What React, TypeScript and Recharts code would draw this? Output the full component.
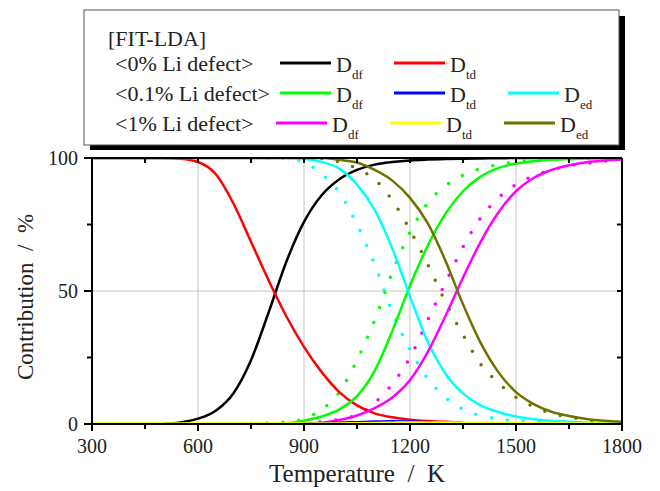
import React from 'react';
import { LineChart, Line, XAxis, YAxis, ReferenceLine } from 'recharts';

// temperature grid (K)
const TEMPS = [300, 350, 400, 450, 500, 550, 600, 650, 700, 750, 800, 850, 900, 950, 1000, 1050,
  1100, 1150, 1200, 1250, 1300, 1350, 1400, 1450, 1500, 1550, 1600, 1650, 1700, 1750, 1800];

// <0% Li defect>
const DF_0 = [null, null, null, null, 0.1, 0.6, 2, 5, 11.5, 24, 42, 61, 76, 86, 92, 95.5,
  97.5, 98.5, 99.1, 99.4, 99.6, 99.75, 99.85, 99.9, 100, 100, 100, 100, 100, 100, 100];
const TD_0 = [100, 100, 100, 100, 100, 99.7, 98.5, 94, 83, 68.5, 54, 40.5, 29, 19.5, 12, 7,
  4, 2.5, 1.6, 1.1, 0.8, 0.5, null, null, null, null, null, null, null, null, null];

// <0.1% Li defect>
const DF_01 = [null, null, null, null, null, null, null, null, null, null, null, 0.2, 1.2, 2.8, 5.5, 10.5,
  20, 35, 52, 67, 79, 87.5, 93, 96.2, 97.9, 98.8, 99.3, 99.6, 99.8, 99.9, 100];
const TD_01 = [null, null, null, null, null, null, null, null, null, null, null, null, 0.1, 0.3, 0.5, 0.7,
  0.9, 1, 0.9, 0.7, 0.5, 0.3, 0.2, 0.1, 0, null, null, null, null, null, null];
const ED_01 = [100, 100, 100, 100, 100, 100, 100, 100, 100, 100, 100, 100, 99.7, 98.5, 96, 90,
  80.5, 66, 48, 31, 19, 11.5, 7, 4.5, 2.8, 1.8, 1.2, 0.8, 0.5, 0.3, 0.2];

// <1% Li defect>
const DF_1 = [null, null, null, null, null, null, null, null, null, null, null, null, 0.1, 0.5, 1.5, 3.2,
  6, 10, 16.5, 27, 40.5, 55, 68.5, 79.5, 87.5, 92.5, 95.5, 97.3, 98.4, 99, 99.4];
const TD_1 = [0.2, 0.2, 0.2, 0.2, 0.2, 0.2, 0.2, 0.2, 0.2, 0.2, 0.2, 0.2, 0.2, 0.2, 0.2, 0.3,
  0.4, 0.5, 0.6, 0.6, 0.6, 0.5, 0.5, 0.4, 0.4, 0.3, 0.3, 0.2, 0.2, 0.2, 0.2];
const ED_1 = [100, 100, 100, 100, 100, 100, 100, 100, 100, 100, 100, 100, 100, 100, 99.3, 98.3,
  95.5, 91.5, 85, 75.5, 61.5, 45, 30.5, 19.5, 12, 7.5, 4.6, 3, 1.9, 1.2, 0.8];

// dotted curves
const DF_01_DOT = [null, null, null, null, null, null, null, null, null, 0.2, 0.4, 0.8, 2, 5.5, 12, 24,
  39, 57, 72, 83, 89.5, 93.5, 96, 97.5, 98.5, 99, 99.4, 99.6, 99.8, 99.9, 100];
const ED_01_DOT = [null, null, null, null, null, null, null, null, null, 100, 100, 99.8, 98.5, 94, 87, 75,
  60, 42, 28, 17, 10, 5.5, 3.2, 2, 1.2, 0.8, 0.5, 0.3, 0.2, 0.1, 0.1];
const DF_1_DOT = [null, null, null, null, null, null, null, null, null, null, null, null, 0.3, 0.8, 1.7, 3.5,
  8, 15, 25, 39, 53, 66.5, 77.5, 85, 90, 93.3, 95.5, 97, 98, 98.8, 99.3];
const ED_1_DOT = [null, null, null, null, null, null, null, null, null, null, null, null, null, 99.8, 98.5, 96,
  92, 84, 73, 60, 46, 33.5, 22.5, 15.5, 10, 6.5, 4, 2.6, 1.5, 1, 0.6];

const X_TICKS = [300, 450, 600, 750, 900, 1050, 1200, 1350, 1500, 1650, 1800];
const X_LABELS = [300, 600, 900, 1200, 1500, 1800];
const Y_TICKS = [0, 25, 50, 75, 100];
const Y_LABELS = [0, 50, 100];
const X_GRID = [600, 900, 1200, 1500];
const Y_GRID = [50];

const SERIES = [
  { key: 'df01dot', values: DF_01_DOT, color: '#00ff00', dotted: true },
  { key: 'ed01dot', values: ED_01_DOT, color: '#00ffff', dotted: true },
  { key: 'df1dot', values: DF_1_DOT, color: '#ff00ff', dotted: true },
  { key: 'ed1dot', values: ED_1_DOT, color: '#717100', dotted: true },
  { key: 'df0', values: DF_0, color: '#000000' },
  { key: 'td0', values: TD_0, color: '#ff0000' },
  { key: 'df01', values: DF_01, color: '#00ff00' },
  { key: 'ed01', values: ED_01, color: '#00ffff' },
  { key: 'df1', values: DF_1, color: '#ff00ff' },
  { key: 'td01', values: TD_01, color: '#0000ff' },
  { key: 'td1', values: TD_1, color: '#ffff00' },
  { key: 'ed1', values: ED_1, color: '#717100' },
];

const LEGEND_ROWS = [
  { label: '<0% Li defect>', items: [{ sub: 'df', color: '#000000' }, { sub: 'td', color: '#ff0000' }] },
  { label: '<0.1% Li defect>', items: [{ sub: 'df', color: '#00ff00' }, { sub: 'td', color: '#0000ff' }, { sub: 'ed', color: '#00ffff' }] },
  { label: '<1% Li defect>', items: [{ sub: 'df', color: '#ff00ff' }, { sub: 'td', color: '#ffff00' }, { sub: 'ed', color: '#717100' }] },
];

const FONT = "'Liberation Serif', 'DejaVu Serif', 'Times New Roman', serif";

const data = TEMPS.map((t, i) => {
  const row: Record<string, number | null> = { t };
  SERIES.forEach(s => { row[s.key] = s.values[i]; });
  return row;
});

const BottomTick = (props: any) => {
  const { x, y, payload } = props;
  const major = X_LABELS.includes(payload.value);
  return (
    <g>
      <line x1={x} y1={y} x2={x} y2={y + (major ? 7 : 5)} stroke="#000" strokeWidth={2} />
      {major && (
        <text x={x} y={y + 29} textAnchor="middle" fill="#222" style={{ fontFamily: FONT, fontSize: 20 }}>
          {payload.value}
        </text>
      )}
    </g>
  );
};

const TopTick = (props: any) => {
  const { x, y } = props;
  return <line x1={x} y1={y} x2={x} y2={y + 5} stroke="#000" strokeWidth={2} />;
};

const LeftTick = (props: any) => {
  const { x, y, payload } = props;
  const major = Y_LABELS.includes(payload.value);
  return (
    <g>
      <line x1={x} y1={y} x2={x - (major ? 8 : 5)} y2={y} stroke="#000" strokeWidth={2} />
      {major && (
        <text x={x - 14} y={y + 7} textAnchor="end" fill="#222" style={{ fontFamily: FONT, fontSize: 20 }}>
          {payload.value}
        </text>
      )}
    </g>
  );
};

const RightTick = (props: any) => {
  const { x, y } = props;
  return <line x1={x} y1={y} x2={x - 5} y2={y} stroke="#000" strokeWidth={2} />;
};

const COL_X = [280, 394, 508];
const ROW_SHIFT = [0, 0, -4];
const txt = (size: number) => ({ fontFamily: FONT, fontSize: size, whiteSpace: 'pre' as const });

const LegendBox = () => (
  <svg width={660} height={491} style={{ position: 'absolute', left: 0, top: 0, pointerEvents: 'none' }}>
    <rect x={90} y={16} width={535} height={134} fill="#000" />
    <rect x={84} y={10} width={535} height={135} fill="#fff" stroke="#555" strokeWidth={1} />
    <text x={108} y={46} fill="#222" style={txt(22)}>[FIT-LDA]</text>
    {LEGEND_ROWS.map((row, r) => {
      const ly = 63 + r * 30;
      return (
        <g key={row.label}>
          <text x={115} y={ly + 8} fill="#222" style={txt(22)}>{row.label}</text>
          {row.items.map((it, c) => {
            const x0 = COL_X[c] + ROW_SHIFT[r];
            return (
              <g key={c}>
                <line x1={x0} y1={ly} x2={x0 + 51} y2={ly} stroke={it.color} strokeWidth={3} />
                <text x={x0 + 56} y={ly + 9} fill="#222" style={txt(22)}>
                  D<tspan dy={7} style={{ fontSize: 13 }}>{it.sub}</tspan>
                </text>
              </g>
            );
          })}
        </g>
      );
    })}
    <text x={357} y={482} textAnchor="middle" fill="#222" style={txt(25)}>{'Temperature  /  K'}</text>
    <text x={0} y={0} transform="translate(33,297) rotate(-90)" textAnchor="middle" fill="#222"
      style={txt(23)}>{'Contribution  /  %'}</text>
  </svg>
);

export default function App() {
  return (
    <div style={{ position: 'absolute', left: 0, top: 0, width: 660, height: 491, background: '#fff' }}>
      <LineChart width={660} height={491} data={data}
        margin={{ top: 148, right: 28, bottom: 27, left: 62 }}>
        {X_GRID.map(g => (
          <ReferenceLine key={'x' + g} x={g} stroke="#c4c4c4" strokeWidth={1} />
        ))}
        {Y_GRID.map(g => (
          <ReferenceLine key={'y' + g} y={g} stroke="#c4c4c4" strokeWidth={1} />
        ))}
        <XAxis dataKey="t" type="number" domain={[300, 1800]} ticks={X_TICKS} interval={0}
          height={40} tickSize={0} tickMargin={0} tickLine={false} tick={<BottomTick />}
          axisLine={{ stroke: '#000', strokeWidth: 2 }} allowDataOverflow />
        <XAxis xAxisId="top" orientation="top" dataKey="t" type="number" domain={[300, 1800]} ticks={X_TICKS}
          interval={0} height={10} tickSize={0} tickMargin={0} tickLine={false} tick={<TopTick />}
          axisLine={{ stroke: '#000', strokeWidth: 2 }} allowDataOverflow />
        <YAxis type="number" domain={[0, 100]} ticks={Y_TICKS} interval={0} width={30}
          tickSize={0} tickMargin={0} tickLine={false} tick={<LeftTick />}
          axisLine={{ stroke: '#000', strokeWidth: 2 }} allowDataOverflow />
        <YAxis yAxisId="right" orientation="right" type="number" domain={[0, 100]} ticks={Y_TICKS}
          interval={0} width={10} tickSize={0} tickMargin={0} tickLine={false} tick={<RightTick />}
          axisLine={{ stroke: '#000', strokeWidth: 2 }} allowDataOverflow />
        {SERIES.map(s => (
          <Line key={s.key} dataKey={s.key} type="monotone" stroke={s.color}
            strokeWidth={s.dotted ? 3.5 : 2.5}
            strokeDasharray={s.dotted ? '0 16' : undefined}
            strokeLinecap={s.dotted ? 'round' : 'butt'}
            dot={false} activeDot={false} isAnimationActive={false} connectNulls={false} />
        ))}
      </LineChart>
      <LegendBox />
    </div>
  );
}
